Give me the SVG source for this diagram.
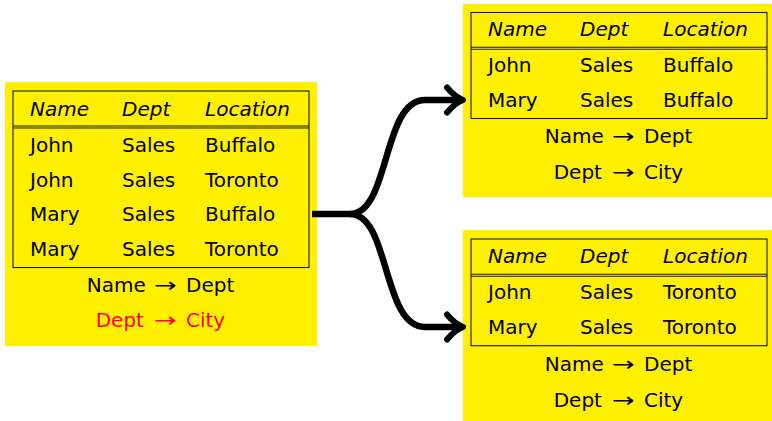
<svg xmlns="http://www.w3.org/2000/svg" width="772" height="421" viewBox="0 0 772 421">
  <style>
    .panel { fill: #fff000; }
    .frame { fill: none; stroke: #1a1a1a; stroke-width: 1.1; }
    text { font-family: "DejaVu Sans", "Liberation Sans", sans-serif; font-size: 20px; fill: #000; }
    .hd { font-style: italic; }
    .bad { fill: #ff0000; }
    .link { fill: none; stroke: #000; stroke-width: 6.5; stroke-linecap: butt; }
    .tip { fill: none; stroke: #000; stroke-width: 6; stroke-linecap: round; stroke-linejoin: round; }
  </style>

  <!-- original relation -->
  <g id="relation-all">
    <rect class="panel" x="5" y="82" width="312" height="264"/>
    <rect class="frame" x="13" y="91" width="296" height="176.5"/>
    <line class="frame" x1="13" y1="126" x2="309" y2="126"/>
    <line class="frame" x1="13" y1="128" x2="309" y2="128"/>
    <text class="hd" x="30" y="115.5">Name</text>
    <text class="hd" x="122" y="115.5">Dept</text>
    <text class="hd" x="205" y="115.5">Location</text>
    <text x="30" y="152">John</text><text x="122" y="152">Sales</text><text x="205" y="152">Buffalo</text>
    <text x="30" y="186.7">John</text><text x="122" y="186.7">Sales</text><text x="205" y="186.7">Toronto</text>
    <text x="30" y="221">Mary</text><text x="122" y="221">Sales</text><text x="205" y="221">Buffalo</text>
    <text x="30" y="255.7">Mary</text><text x="122" y="255.7">Sales</text><text x="205" y="255.7">Toronto</text>
    <text x="86.7" y="291.7">Name</text>
    <text x="154" y="291.7" textLength="22.7" lengthAdjust="spacingAndGlyphs">→</text>
    <text x="186" y="291.7">Dept</text>
    <text class="bad" x="95.7" y="326.7">Dept</text>
    <text class="bad" x="154" y="326.7" textLength="22.7" lengthAdjust="spacingAndGlyphs">→</text>
    <text class="bad" x="186" y="326.7">City</text>
  </g>

  <!-- Buffalo fragment -->
  <g id="relation-buffalo">
    <rect class="panel" x="463" y="4" width="309" height="193"/>
    <rect class="frame" x="471" y="12.5" width="296" height="106"/>
    <line class="frame" x1="471" y1="47.3" x2="767" y2="47.3"/>
    <line class="frame" x1="471" y1="49.3" x2="767" y2="49.3"/>
    <text class="hd" x="488" y="36">Name</text>
    <text class="hd" x="580" y="36">Dept</text>
    <text class="hd" x="663" y="36">Location</text>
    <text x="488" y="72.3">John</text><text x="580" y="72.3">Sales</text><text x="663" y="72.3">Buffalo</text>
    <text x="488" y="106.7">Mary</text><text x="580" y="106.7">Sales</text><text x="663" y="106.7">Buffalo</text>
    <text x="544.7" y="143.3">Name</text>
    <text x="612" y="143.3" textLength="22.7" lengthAdjust="spacingAndGlyphs">→</text>
    <text x="644" y="143.3">Dept</text>
    <text x="553.7" y="179">Dept</text>
    <text x="612" y="179" textLength="22.7" lengthAdjust="spacingAndGlyphs">→</text>
    <text x="644" y="179">City</text>
  </g>

  <!-- Toronto fragment -->
  <g id="relation-toronto">
    <rect class="panel" x="463" y="230" width="309" height="191"/>
    <rect class="frame" x="471" y="239" width="296" height="106.7"/>
    <line class="frame" x1="471" y1="274.3" x2="767" y2="274.3"/>
    <line class="frame" x1="471" y1="276.3" x2="767" y2="276.3"/>
    <text class="hd" x="488" y="263.3">Name</text>
    <text class="hd" x="580" y="263.3">Dept</text>
    <text class="hd" x="663" y="263.3">Location</text>
    <text x="488" y="299">John</text><text x="580" y="299">Sales</text><text x="663" y="299">Toronto</text>
    <text x="488" y="334">Mary</text><text x="580" y="334">Sales</text><text x="663" y="334">Toronto</text>
    <text x="544.7" y="370.7">Name</text>
    <text x="612" y="370.7" textLength="22.7" lengthAdjust="spacingAndGlyphs">→</text>
    <text x="644" y="370.7">Dept</text>
    <text x="553.7" y="406.7">Dept</text>
    <text x="612" y="406.7" textLength="22.7" lengthAdjust="spacingAndGlyphs">→</text>
    <text x="644" y="406.7">City</text>
  </g>

  <!-- connectors: one relation split into two -->
  <g id="connectors">
    <path class="link" d="M312,214 H350 C390,214 382,100 425,100 H461"/>
    <path class="link" d="M350,214 C390,214 382,327 425,327 H461"/>
    <path class="tip" d="M447,87.5 Q455,97 463,100 Q455,103 447,112.5"/>
    <path class="tip" d="M447,314.5 Q455,324 463,327 Q455,330 447,339.5"/>
  </g>
</svg>
